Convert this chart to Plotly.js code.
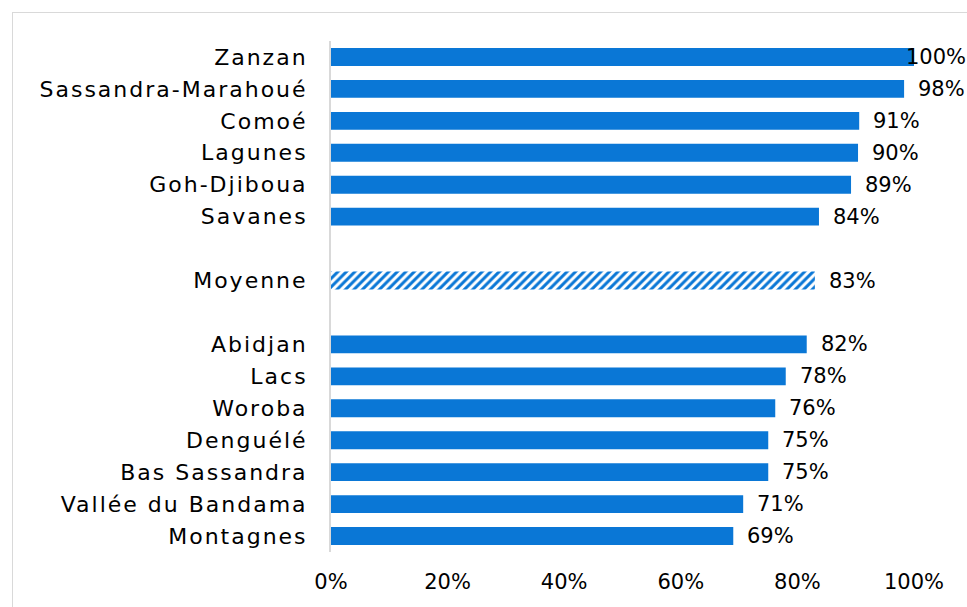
<!DOCTYPE html>
<html><head><meta charset="utf-8">
<script src="https://cdn.plot.ly/plotly-3.0.1.min.js"></script>
<style>
html,body{margin:0;padding:0;background:#fff;}
#wrap{position:relative;width:967px;height:607px;overflow:hidden;}
#chart{width:967px;height:607px;}
#frame{position:absolute;left:12px;top:12px;width:1000px;height:1000px;border:1px solid #d9d9d9;pointer-events:none;}
#chart .ytick text{letter-spacing:2px;}
</style></head>
<body><div id="wrap"><div id="chart"></div><div id="frame"></div></div>
<script>
const categories = ["Zanzan","Sassandra-Marahoué","Comoé","Lagunes","Goh-Djiboua","Savanes"," ","Moyenne","  ","Abidjan","Lacs","Woroba","Denguélé","Bas Sassandra","Vallée du Bandama","Montagnes"];
const values = [1.00,0.983,0.906,0.904,0.892,0.837,null,0.830,null,0.816,0.780,0.762,0.750,0.750,0.707,0.690];
const patterns = ["","","","","","","","/","","","","","","","",""];
const tickVals = [0,0.2,0.4,0.6,0.8,1.0];
const tickText = ["0%","20%","40%","60%","80%","100%"];

const blue = "#0A77D6";
const font = "'DejaVu Sans', sans-serif";

const trace = {
  type:"bar", orientation:"h",
  y:categories, x:values,
  width:0.56,
  marker:{color:blue, line:{width:0},
    pattern:{shape:patterns, fgcolor:blue, bgcolor:"#ffffff", size:6, solidity:0.5}},
  hoverinfo:"none"
};

const annotations = [];
categories.forEach((c,i)=>{
  const v = values[i];
  if (v===null) return;
  annotations.push({x:v, y:c, xref:"x", yref:"y", text:Math.round(v*100)+"%",
    showarrow:false, xanchor:"left", xshift: v>=0.995 ? -10 : 12,
    font:{family:font, size:21, color:"#000"}});
});

const layout = {
  width:967, height:607,
  margin:{l:331, r:53, t:41, b:55},
  paper_bgcolor:"#fff", plot_bgcolor:"#fff",
  showlegend:false,
  font:{family:font, size:22, color:"#000"},
  xaxis:{range:[0,1], tickvals:tickVals, ticktext:tickText, showgrid:false, zeroline:false,
    showline:false, ticks:"", ticklabelstandoff:15, fixedrange:true, tickfont:{size:21}},
  yaxis:{type:"category", autorange:"reversed", showgrid:false, zeroline:false,
    showline:true, linecolor:"#d9d9d9", linewidth:2, ticks:"", ticklabelstandoff:17, fixedrange:true},
  annotations:annotations,
  bargap:0.44
};
Plotly.newPlot("chart",[trace],layout,{displayModeBar:false,staticPlot:true});
</script></body></html>
